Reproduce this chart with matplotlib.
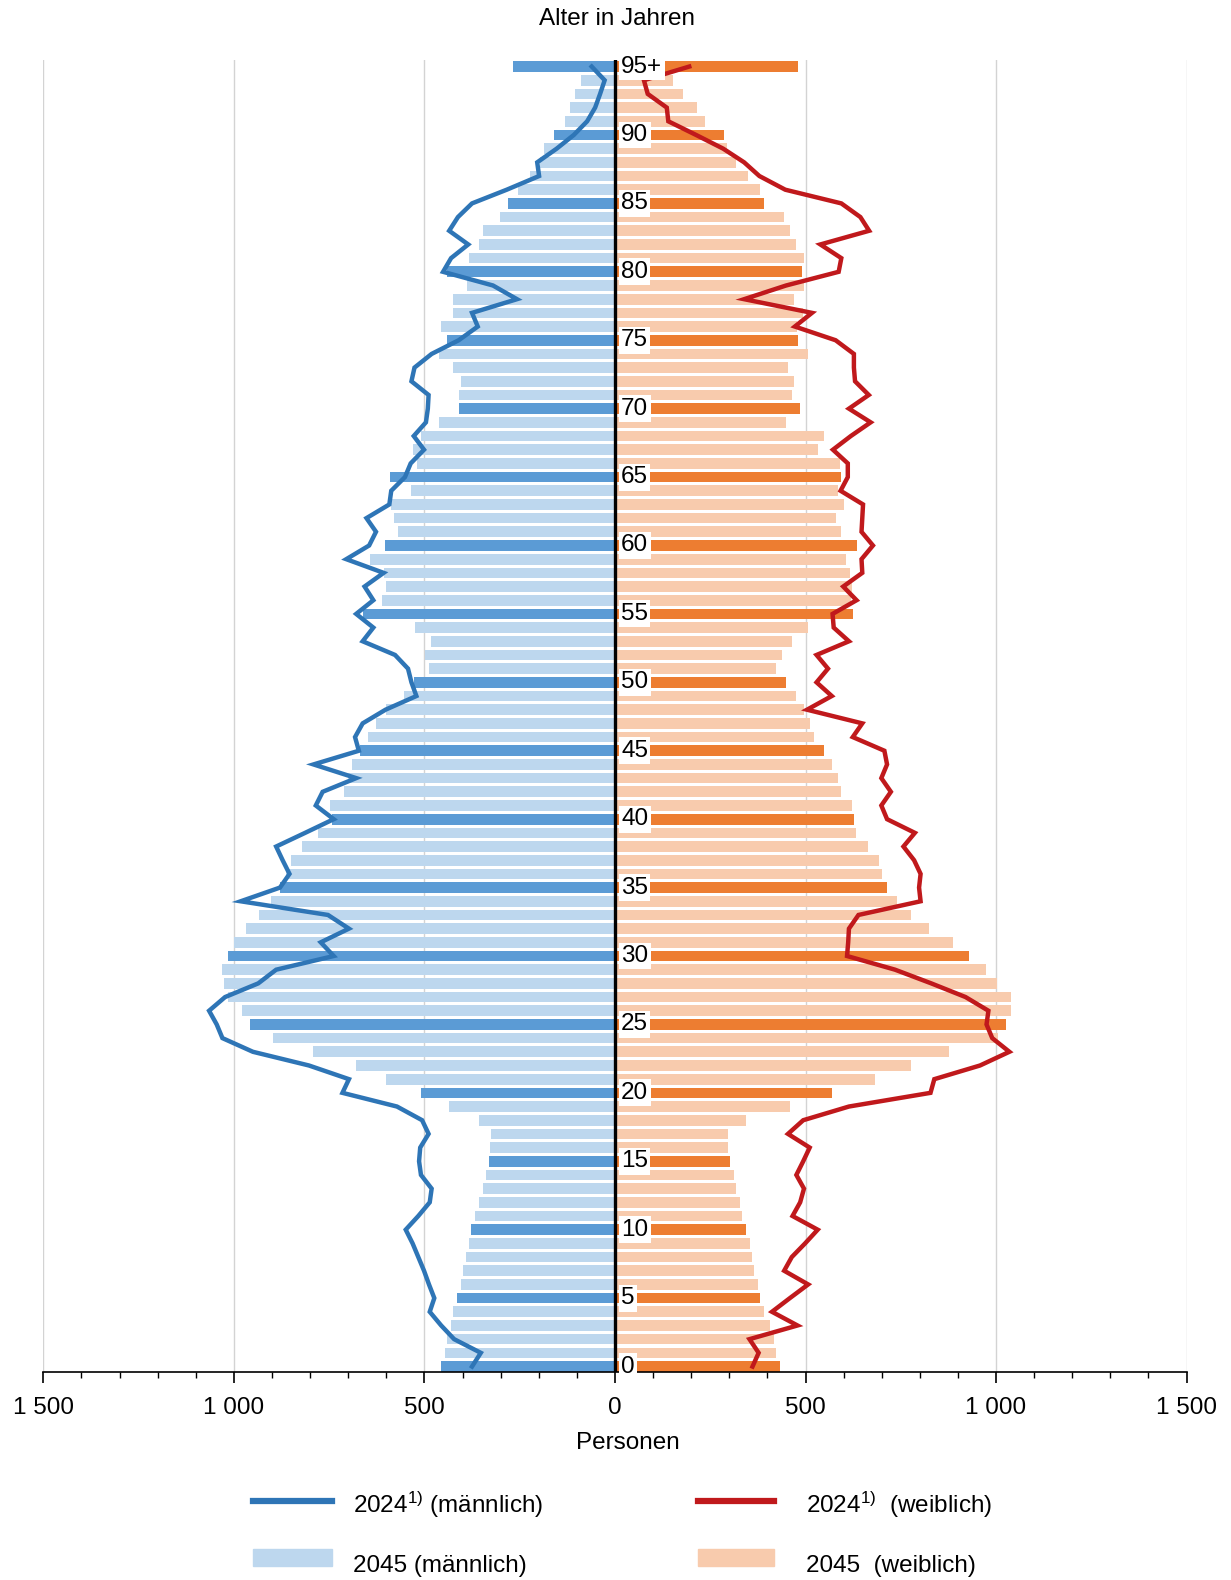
import matplotlib
matplotlib.use('Agg')
import matplotlib.pyplot as plt
from matplotlib.lines import Line2D
from matplotlib.patches import Rectangle
from matplotlib.ticker import MultipleLocator, FixedLocator
import numpy as np

plt.rcParams['font.family'] = ['Liberation Sans', 'DejaVu Sans']
plt.rcParams['mathtext.fontset'] = 'custom'
plt.rcParams['mathtext.rm'] = 'Liberation Sans'
plt.rcParams['mathtext.it'] = 'Liberation Sans'

ages = list(range(0, 96))
age_labels = ["0", "5", "10", "15", "20", "25", "30", "35", "40", "45",
              "50", "55", "60", "65", "70", "75", "80", "85", "90", "95+"]

# 2045 projection (bars), ages 0..95+
male_2045 = [457, 445, 440, 430, 425, 414, 404, 398, 392, 382,
             378, 366, 356, 345, 339, 330, 329, 324, 356, 435,
             509, 600, 680, 791, 898, 957, 978, 1015, 1025, 1031,
             1015, 999, 967, 935, 902, 879, 864, 849, 822, 780,
             743, 749, 710, 700, 690, 670, 648, 627, 600, 553,
             528, 488, 499, 483, 525, 662, 610, 600, 607, 642,
             604, 569, 579, 587, 535, 589, 520, 530, 510, 462,
             408, 408, 404, 425, 462, 440, 457, 425, 425, 388,
             440, 382, 356, 345, 302, 280, 254, 222, 197, 185,
             159, 132, 117, 106, 90, 268]
female_2045 = [433, 423, 418, 407, 391, 381, 376, 365, 360, 355,
               344, 334, 328, 317, 312, 302, 296, 296, 344, 459,
               570, 682, 776, 877, 1005, 1025, 1040, 1040, 1003, 973,
               930, 888, 825, 777, 739, 713, 702, 692, 665, 633,
               628, 623, 592, 586, 570, 549, 523, 512, 497, 475,
               449, 423, 438, 465, 506, 624, 619, 622, 617, 607,
               634, 592, 581, 602, 586, 593, 591, 533, 549, 449,
               486, 465, 470, 454, 506, 480, 477, 494, 470, 496,
               491, 496, 475, 459, 444, 391, 380, 349, 317, 294,
               287, 236, 216, 179, 153, 480]

# 2024 (lines), ages 0..95+
male_2024 = [375, 352, 422, 456, 486, 474, 488, 501, 516, 531,
             549, 516, 486, 481, 509, 514, 511, 489, 506, 572,
             715, 698, 803, 950, 1030, 1045, 1065, 1023, 936, 889,
             738, 772, 698, 753, 982, 879, 854, 872, 889, 813,
             738, 785, 767, 679, 791, 672, 682, 662, 602, 521,
             534, 543, 577, 662, 634, 679, 634, 657, 607, 705,
             645, 627, 652, 592, 587, 551, 536, 501, 528, 496,
             491, 489, 534, 526, 481, 410, 360, 375, 257, 320,
             451, 430, 385, 435, 412, 375, 284, 199, 204, 153,
             108, 73, 52, 39, 27, 61]
female_2024 = [361, 377, 353, 479, 412, 459, 507, 444, 464, 499,
               532, 466, 486, 496, 476, 494, 511, 454, 494, 614,
               828, 838, 958, 1035, 990, 975, 980, 920, 830, 735,
               609, 612, 614, 639, 802, 798, 802, 785, 757, 787,
               714, 699, 724, 699, 714, 707, 624, 649, 504, 569,
               529, 559, 529, 614, 574, 571, 634, 599, 649, 647,
               677, 647, 649, 651, 592, 611, 611, 572, 619, 671,
               614, 666, 630, 627, 627, 579, 472, 517, 339, 449,
               587, 594, 539, 667, 644, 594, 447, 379, 339, 284,
               213, 140, 136, 86, 76, 195]

x_ticks = [-1500, -1000, -500, 0, 500, 1000, 1500]
x_tick_labels = ["1 500", "1 000", "500", "0", "500", "1 000", "1 500"]

C_M_DARK = '#5B9BD5'
C_M_LIGHT = '#BDD7EE'
C_F_DARK = '#ED7D31'
C_F_LIGHT = '#F8CBAD'
C_M_LINE = '#2E75B6'
C_F_LINE = '#C0191C'

FS = 17.5

W, H = 1231, 1580
fig = plt.figure(figsize=(W / 100, H / 100), dpi=100)
ax = fig.add_axes([43.3 / W, 1 - 1372 / H, (1186.6 - 43.3) / W, (1372 - 60.4) / H])

m_colors = [C_M_DARK if a % 5 == 0 else C_M_LIGHT for a in ages]
f_colors = [C_F_DARK if a % 5 == 0 else C_F_LIGHT for a in ages]

ax.barh(ages, [-v for v in male_2045], height=0.78, color=m_colors, zorder=2)
ax.barh(ages, female_2045, height=0.78, color=f_colors, zorder=2)
ax.plot([-v for v in male_2024], ages, color=C_M_LINE, lw=3.2, zorder=3,
        solid_joinstyle='miter')
ax.plot(female_2024, ages, color=C_F_LINE, lw=3.2, zorder=3,
        solid_joinstyle='miter')
ax.axvline(0, color='black', lw=2.4, zorder=4)

for i, lab in enumerate(age_labels):
    ax.text(16, i * 5, lab, fontsize=FS, va='center', ha='left', zorder=6,
            bbox=dict(boxstyle='square,pad=0.1', fc='white', ec='none'))

ax.set_xlim(-1500, 1500)
ax.set_ylim(-0.4, 95.45)
ax.xaxis.set_major_locator(FixedLocator(x_ticks))
ax.set_xticklabels(x_tick_labels, fontsize=FS)
ax.xaxis.set_minor_locator(MultipleLocator(100))
ax.tick_params(axis='x', which='major', length=8, width=1.2, direction='out', pad=10)
ax.tick_params(axis='x', which='minor', length=4, width=1.0, direction='out')
ax.set_yticks([])
for s in ['top', 'left', 'right']:
    ax.spines[s].set_visible(False)
ax.spines['bottom'].set_color('black')
ax.spines['bottom'].set_linewidth(1.2)
for gx in [-1500, -1000, -500, 500, 1000, 1500]:
    ax.axvline(gx, color='#D3D3D3', lw=1.0, zorder=1)

fig.text(617 / W, 1 - 19 / H, "Alter in Jahren", fontsize=FS, ha='center', va='center')
fig.text(628 / W, 1 - 1443 / H, "Personen", fontsize=FS, ha='center', va='center')

# legend
y1 = 1 - 1501 / H
y2 = 1 - 1557 / H
b1 = 1 - 1513 / H
b2 = 1 - 1572 / H
fig.add_artist(Line2D([253 / W, 332 / W], [y1, y1], color=C_M_LINE, lw=4.5,
                      transform=fig.transFigure))
fig.add_artist(Line2D([698 / W, 774 / W], [y1, y1], color=C_F_LINE, lw=4.5,
                      transform=fig.transFigure))
ph = 17 / H
fig.add_artist(Rectangle((253 / W, y2 - ph / 2), 79 / W, ph, color=C_M_LIGHT,
                         transform=fig.transFigure))
fig.add_artist(Rectangle((698 / W, y2 - ph / 2), 76 / W, ph, color=C_F_LIGHT,
                         transform=fig.transFigure))
fig.text(353 / W, b1, r"2024$^{1)}$ (männlich)", fontsize=FS, va='baseline', ha='left')
fig.text(806 / W, b1, r"2024$^{1)}$  (weiblich)", fontsize=FS, va='baseline', ha='left')
fig.text(353 / W, b2, "2045 (männlich)", fontsize=FS, va='baseline', ha='left')
fig.text(806 / W, b2, "2045  (weiblich)", fontsize=FS, va='baseline', ha='left')

fig.savefig('out.png', dpi=100)
